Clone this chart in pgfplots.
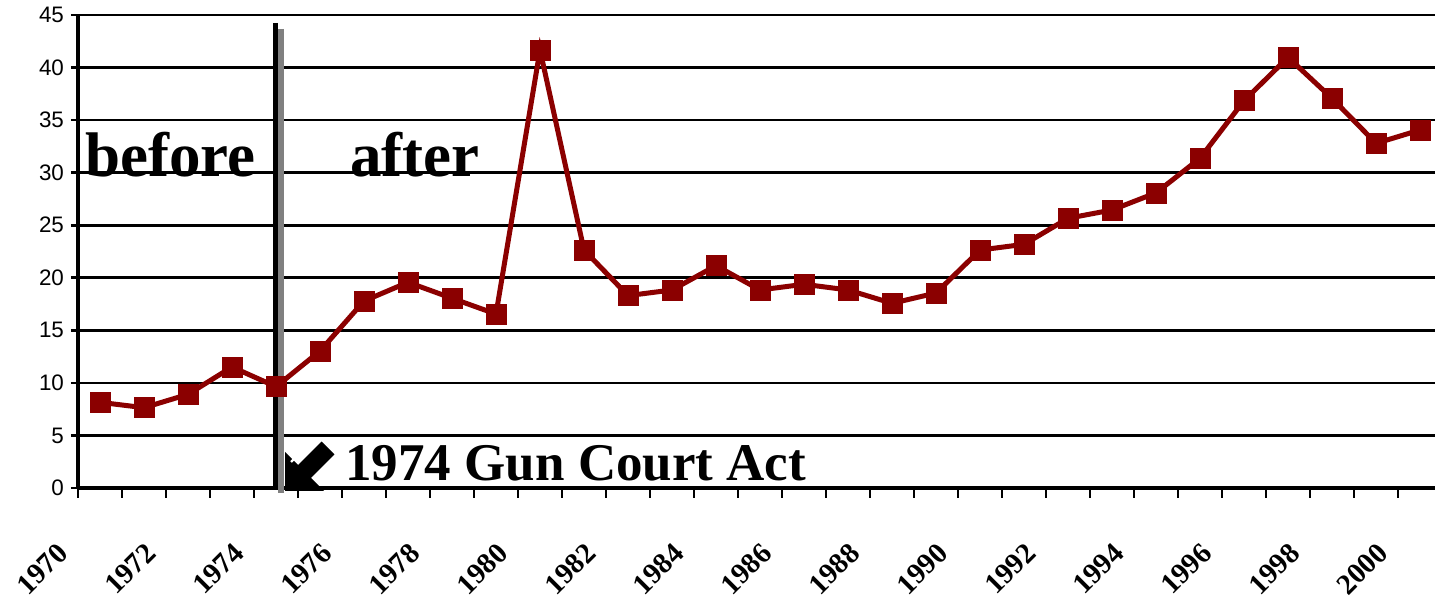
\documentclass[border=0pt]{standalone}
\usepackage{pgfplots}
\pgfplotsset{compat=1.18}
\usepackage{fontspec}
\setmainfont{Liberation Serif}
\newfontfamily\arial{Liberation Sans}
\definecolor{series}{RGB}{139,0,0}
\definecolor{shadow}{RGB}{128,128,128}
\newcommand{\px}[2]{(axis cs:{-0.5+(#1-78)/44},{(488-#2)/10.511})}

\begin{document}
\begin{tikzpicture}
\begin{axis}[
  scale only axis,
  width=678.5pt, height=236.5pt,
  xmin=-0.5, xmax=30.34, ymin=0, ymax=45,
  axis x line=bottom, axis y line=left,
  axis line style={-, line width=1.6pt, black},
  ytick={0,5,...,45},
  ymajorgrids,
  major grid style={black, line width=1.3pt},
  tick align=outside,
  tick style={black, line width=1.3pt},
  major tick length=3.5pt,
  xtick={-0.5,0.5,...,29.5},
  xticklabels={},
  xtick style={/pgfplots/major tick length=5pt},
  extra x ticks={0,2,...,30},
  extra x tick labels={1970,1972,1974,1976,1978,1980,1982,1984,1986,1988,1990,1992,1994,1996,1998,2000},
  extra x tick style={
    major tick length=0pt,
    tick style={draw=none},
    xticklabel style={xshift=-18.5pt, yshift=-30pt, rotate=45, anchor=east, inner sep=0pt,
      font=\bfseries\fontsize{14.5}{16}\selectfont}
  },
  /pgf/number format/assume math mode=true,
  yticklabel style={font=\arial\fontsize{11.2}{13}\selectfont},
  clip=false,
]
\addplot[series, line width=2.5pt, mark=square*, mark size=5pt,
  mark options={solid, line width=0.3pt, draw=series, fill=series}] table {
x y
0 8.15
1 7.64
2 8.91
3 11.51
4 9.64
5 13.03
6 17.79
7 19.57
8 18.05
9 16.55
10 41.67
11 22.64
12 18.30
13 18.84
14 21.15
15 18.84
16 19.38
17 18.84
18 17.57
19 18.55
20 22.64
21 23.18
22 25.66
23 26.45
24 28.08
25 31.37
26 36.85
27 40.97
28 37.07
29 32.79
30 34.06
};
% divider line with shadow
\draw[shadow, line width=2.6pt] \px{281}{29} -- \px{281}{493};
\draw[black, line width=2.7pt] \px{275.5}{23} -- \px{275.5}{490};
% block arrow
\fill[black] \px{285}{491} -- \px{324}{491} -- \px{310.9}{477.9} -- \px{334.4}{454.4}
  -- \px{321.6}{441.6} -- \px{298.1}{465.1} -- \px{285}{452} -- cycle;
\draw[white, line width=1.2pt] \px{291}{462} -- \px{302}{451};
% labels
\node[anchor=base west, inner sep=0pt, font=\bfseries\fontsize{31.5}{34}\selectfont] at \px{85}{177} {before};
\node[anchor=base west, inner sep=0pt, font=\bfseries\fontsize{31.5}{34}\selectfont] at \px{350}{177} {after};
\node[anchor=base west, inner sep=0pt, font=\bfseries\fontsize{26.5}{29}\selectfont] at \px{345}{481} {1974 Gun Court Act};
\end{axis}
\pgfresetboundingbox
\path[use as bounding box] ([xshift=-39pt,yshift=-57pt]current axis.south west) rectangle ([yshift=7.5pt]current axis.north east);
\end{tikzpicture}
\end{document}
